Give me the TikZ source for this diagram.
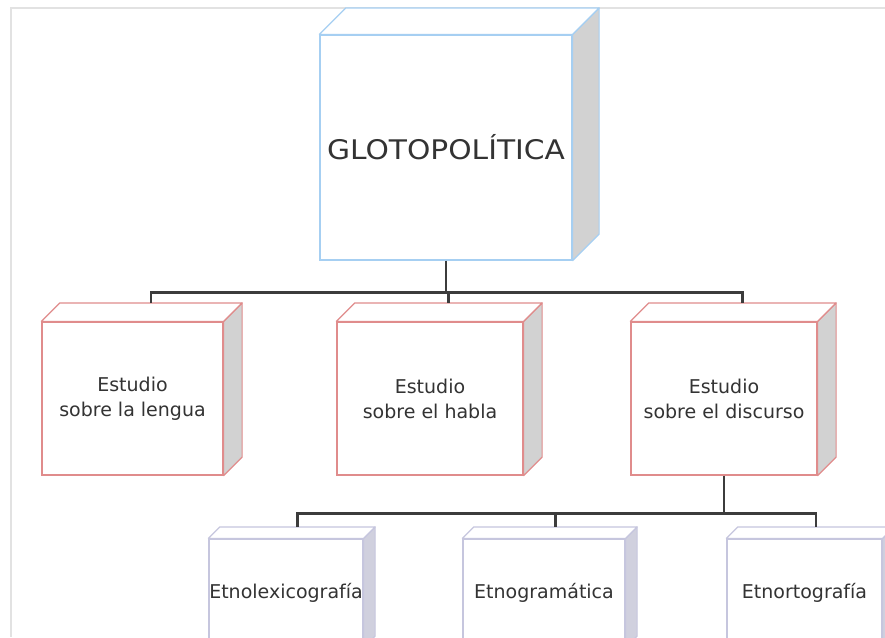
\documentclass[tikz,border=0pt]{standalone}
\usepackage{fontspec}
\usepackage{graphicx}
\setmainfont{DejaVu Sans}
\usetikzlibrary{calc}
\definecolor{bluebd}{HTML}{A6CFF2}
\definecolor{redbd}{HTML}{E08C8C}
\definecolor{lavbd}{HTML}{C6C6DE}
\definecolor{sidegray}{HTML}{D2D2D2}
\definecolor{sidelav}{HTML}{D0D0DE}
\definecolor{connc}{HTML}{3C3C3C}
\definecolor{framec}{HTML}{E2E2E2}
\definecolor{txtc}{HTML}{333333}
\newcommand\cubebox[7]{%
  \node[#1] (#4) at (#5) {#7};
  \filldraw[draw=#2, fill=#3, line width=1.2pt, line join=round] (#4.north east) -- ++(#6,-#6) -- ($(#4.south east)+(#6,-#6)$) -- (#4.south east) -- cycle;
  \filldraw[draw=#2, fill=white, line width=1.2pt, line join=round] (#4.north west) -- ++(#6,-#6) -- ($(#4.north east)+(#6,-#6)$) -- (#4.north east) -- cycle;
  \coordinate (#4-back) at ($(#4.north)+(#6,-#6)$);
}
\begin{document}
\begin{tikzpicture}[x=1pt,y=-1pt,
  front/.style={draw, fill=white, line width=1.2pt, inner sep=0pt, align=center, text=txtc},
  topbox/.style={front, draw=bluebd, minimum width=252pt, minimum height=225pt, font=\fontsize{27}{30}\selectfont},
  midbox/.style={front, draw=redbd, minimum height=153pt, font=\fontsize{19}{25}\selectfont},
  lowbox/.style={front, draw=lavbd, minimum height=108pt, font=\fontsize{19}{25}\selectfont},
  conn/.style={draw=connc, line width=2.4pt}]
\useasboundingbox (0,0) rectangle (885,637);
\clip (0,0) rectangle (885,637);
\fill[white] (0,0) rectangle (885,637);
\draw[framec, line width=2pt] (11,637) -- (11,8) -- (885,8);

% top box
\cubebox{topbox}{bluebd}{sidegray}{g}{446,147.5}{26.5}{\scalebox{1.1}[1]{GLOTOPOLÍTICA}}

% level 2
\cubebox{midbox, minimum width=181pt}{redbd}{sidegray}{ma}{132.5,398.5}{18.5}{Estudio\\sobre la lengua}
\cubebox{midbox, minimum width=186pt}{redbd}{sidegray}{mb}{430,398.5}{18.5}{Estudio\\sobre el habla}
\cubebox{midbox, minimum width=186pt}{redbd}{sidegray}{mc}{724,398.5}{18.5}{Estudio\\sobre el discurso}

% level 3
\cubebox{lowbox, minimum width=154pt}{lavbd}{sidelav}{la}{286,593}{11.5}{Etnolexicografía}
\cubebox{lowbox, minimum width=162pt}{lavbd}{sidelav}{lb}{544,593}{11.5}{Etnogramática}
\cubebox{lowbox, minimum width=155pt}{lavbd}{sidelav}{lc}{804.5,593}{11.5}{Etnortografía}

% connectors
\coordinate (bus1) at ($(g.south)+(0,32)$);
\draw[conn] (g.south) -- (bus1);
\draw[conn] (ma-back) |- (bus1) -| (mc-back);
\draw[conn] (mb-back) -- (mb-back |- bus1);

\coordinate (bus2) at ($(mc.south)+(0,38)$);
\draw[conn] (mc.south) -- (bus2);
\draw[conn] (la-back) |- (bus2) -| (lc-back);
\draw[conn] (lb-back) -- (lb-back |- bus2);
\end{tikzpicture}
\end{document}
